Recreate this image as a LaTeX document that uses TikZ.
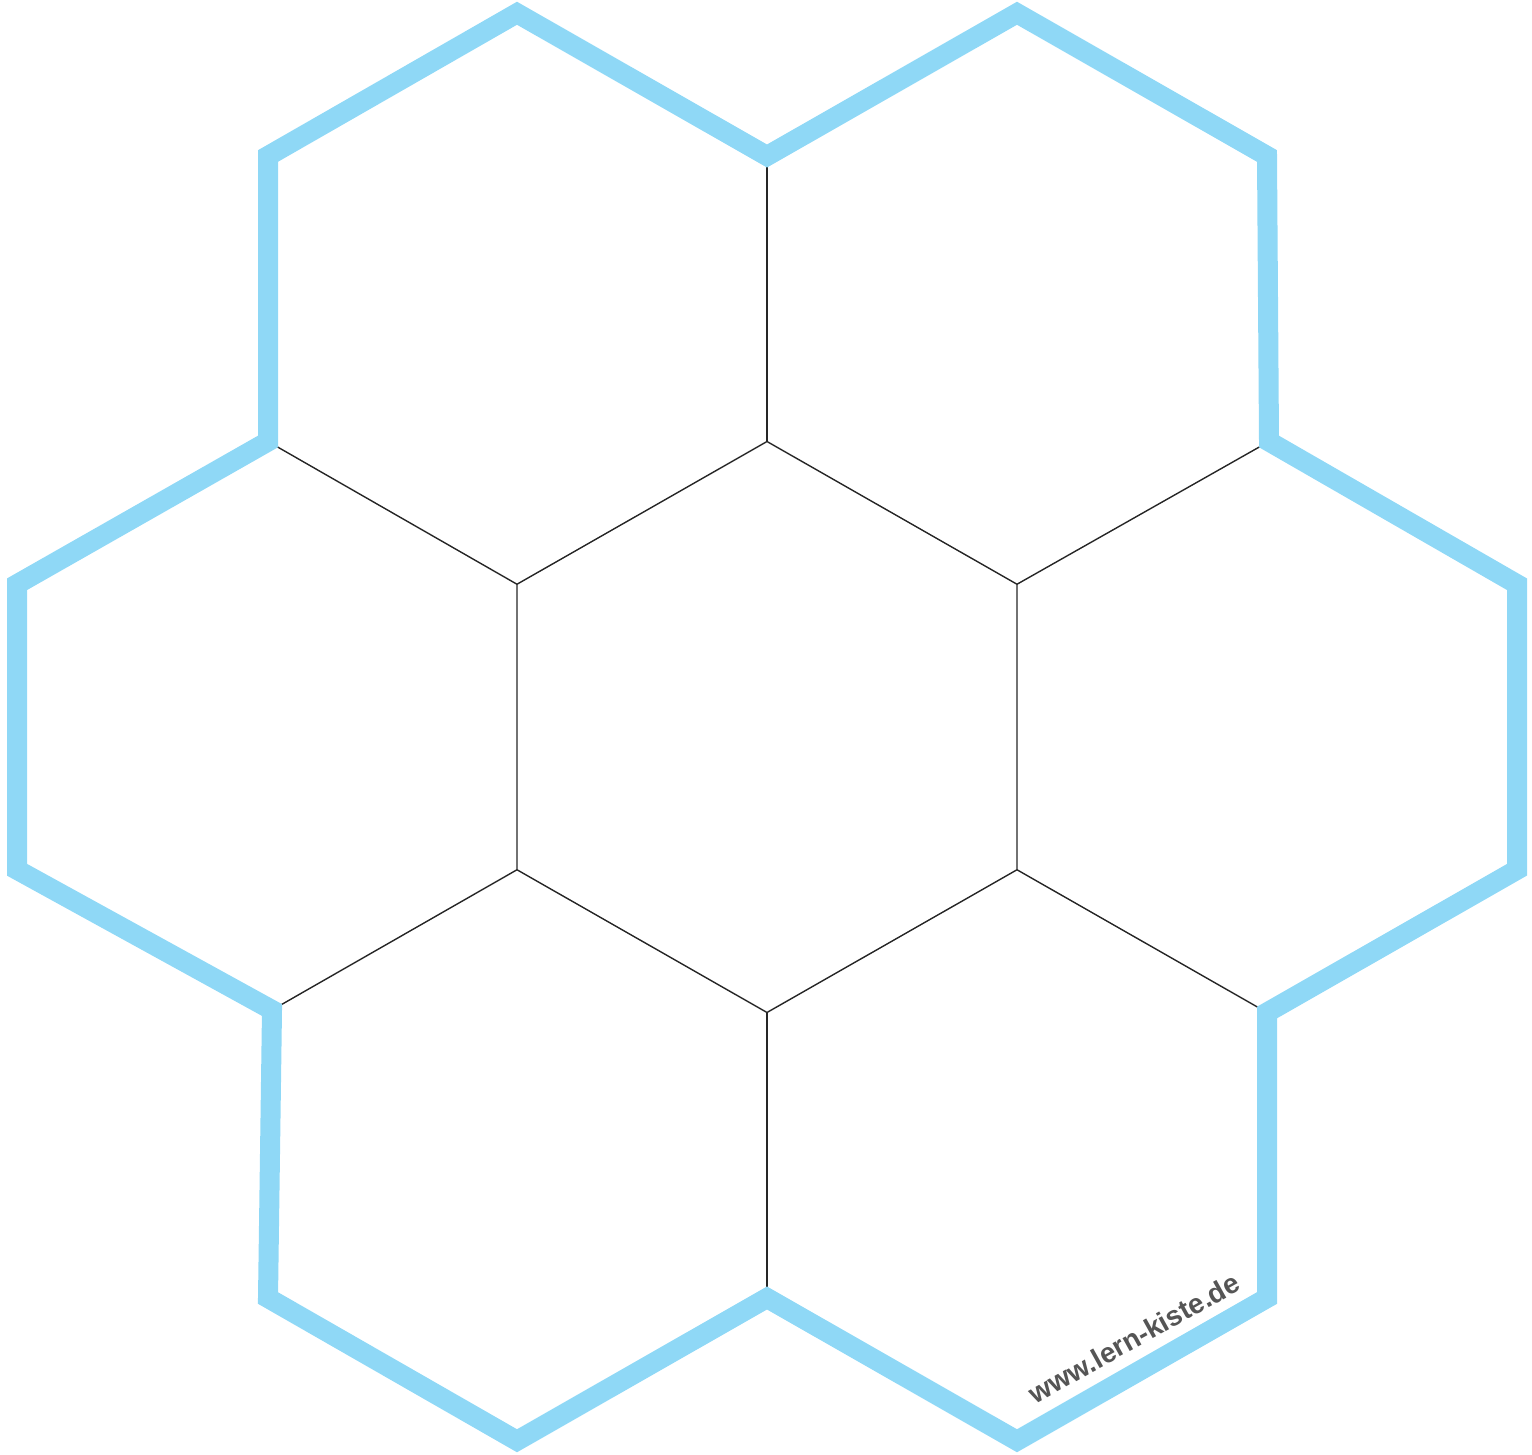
\documentclass[tikz,border=0pt]{standalone}
\usepackage{fontspec}
\setmainfont{Liberation Sans}
\definecolor{hexblue}{HTML}{8FD8F6}
\definecolor{txtgray}{HTML}{555555}
\begin{document}
\begin{tikzpicture}[x=0.5pt,y=-0.5pt,
  thin line/.style={draw=black!85,line width=0.7pt},
  outline/.style={draw=hexblue,line width=10pt,miter limit=10,line join=miter},
  site/.style={font=\bfseries\fontsize{14}{16}\selectfont,text=txtgray,inner sep=0pt}]
\useasboundingbox (0,0) rectangle (1532,1455);
% vertices of the central hexagon
\coordinate (c1) at (767,441.5);
\coordinate (c2) at (1017,584.25);
\coordinate (c3) at (1017,869.75);
\coordinate (c4) at (767,1012.5);
\coordinate (c5) at (517,869.75);
\coordinate (c6) at (517,584.25);
% outer vertices
\coordinate (o1) at (517,13.25);
\coordinate (o2) at (767,156);
\coordinate (o3) at (1017,13.25);
\coordinate (o4) at (1267,156);
\coordinate (o5) at (1269,441.5);
\coordinate (o6) at (1517,584.25);
\coordinate (o7) at (1517,869.75);
\coordinate (o8) at (1267,1012.5);
\coordinate (o9) at (1267,1298);
\coordinate (o10) at (1017,1440.75);
\coordinate (o11) at (767,1298);
\coordinate (o12) at (517,1440.75);
\coordinate (o13) at (268,1298);
\coordinate (o14) at (272,1010);
\coordinate (o15) at (17,869.75);
\coordinate (o16) at (17,584.25);
\coordinate (o17) at (268,441.5);
\coordinate (o18) at (268,156);
% inner thin lines
\draw[thin line] (c1) -- (c2) -- (c3) -- (c4) -- (c5) -- (c6) -- cycle;
\draw[thin line] (o2) -- (c1);
\draw[thin line] (o17) -- (c6);
\draw[thin line] (o5) -- (c2);
\draw[thin line] (o14) -- (c5);
\draw[thin line] (o8) -- (c3);
\draw[thin line] (o11) -- (c4);
% outer blue outline
\draw[outline] (o1) -- (o2) -- (o3) -- (o4) -- (o5) -- (o6) -- (o7) -- (o8) -- (o9)
  -- (o10) -- (o11) -- (o12) -- (o13) -- (o14) -- (o15) -- (o16) -- (o17) -- (o18) -- cycle;
% label
\node[site,rotate=29] (url) at (1134,1338) {www.lern-kiste.de};
\end{tikzpicture}
\end{document}
